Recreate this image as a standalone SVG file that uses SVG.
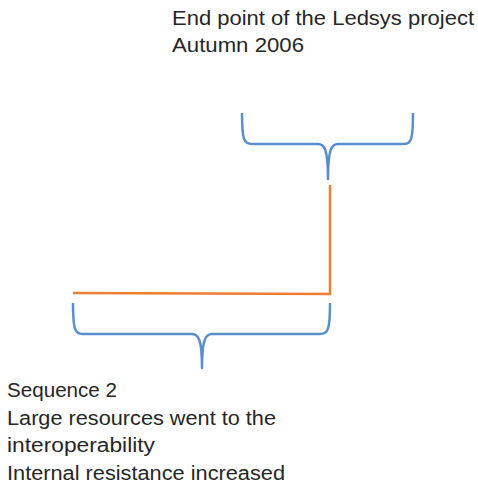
<svg xmlns="http://www.w3.org/2000/svg" width="478" height="494" viewBox="0 0 478 494">
<style>
.t{font-family:"Liberation Sans",Arial,sans-serif;font-size:19.5px;fill:#262626}
.brace{fill:none;stroke:#5B8FCB;stroke-width:2.5;stroke-linejoin:round}
.line{fill:none;stroke:#ED7D31;stroke-width:2.5}
</style>
<rect width="478" height="494" fill="#fff"/>
<g id="end-label">
<text class="t" x="172" y="25" textLength="302" lengthAdjust="spacingAndGlyphs">End point of the Ledsys project</text>
<text class="t" x="172" y="52" textLength="132" lengthAdjust="spacingAndGlyphs">Autumn 2006</text>
</g>
<g id="top-brace">
<path class="brace" d="M242,113 C242,140 244,144 252,144 L318,144 C324,144 328,148 328,179 C328,148 332,144 338,144 L404,144 C411,144 413,140 413,113"/>
</g>
<g id="connectors">
<path class="line" d="M330,185 L330,294 L73,293"/>
</g>
<g id="bottom-brace">
<path class="brace" d="M73,303 C73,330 75,334 83,334 L192,334 C198,334 202,338 202,368 C202,338 206,334 212,334 L320,334 C328,334 330,330 330,303"/>
</g>
<g id="sequence-label">
<text class="t" x="7" y="397" textLength="110" lengthAdjust="spacingAndGlyphs">Sequence 2</text>
<text class="t" x="7" y="425" textLength="269" lengthAdjust="spacingAndGlyphs">Large resources went to the</text>
<text class="t" x="7" y="452" textLength="148" lengthAdjust="spacingAndGlyphs">interoperability</text>
<text class="t" x="7" y="480" textLength="278" lengthAdjust="spacingAndGlyphs">Internal resistance increased</text>
</g>
</svg>
